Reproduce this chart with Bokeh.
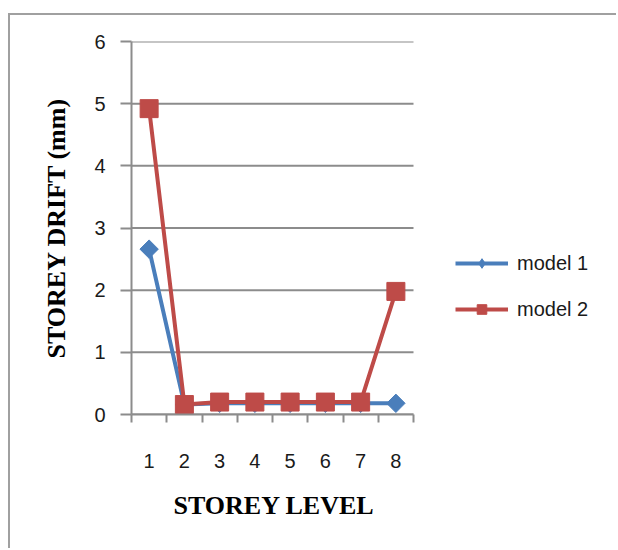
import math
from bokeh.plotting import figure
from bokeh.models import (Range1d, FixedTicker, Legend, LegendItem, Title)
from bokeh.embed import file_html
from bokeh.resources import INLINE

levels = [1, 2, 3, 4, 5, 6, 7, 8]
level_labels = ["1", "2", "3", "4", "5", "6", "7", "8"]
model1 = [2.66, 0.16, 0.18, 0.18, 0.18, 0.18, 0.18, 0.18]
model2 = [4.92, 0.16, 0.2, 0.2, 0.2, 0.2, 0.2, 1.98]
y_ticks = [0, 1, 2, 3, 4, 5, 6]

BLUE = "#4A7EBB"
RED = "#BE4B48"
GRID = "#8C8C8C"

OX, OY = 10, 15  # canvas origin on the page (margin + border)
W, H = 618 - OX, 550 - OY
FRAME_L, FRAME_T, FRAME_B = 131 - OX, 41 - OY, 414 - OY
PLOT_W = 282  # width of the category area in px
frame_w = W - FRAME_L
x0 = 0.5
x1 = x0 + len(levels) * frame_w / PLOT_W

p = figure(width=W, height=H, output_backend="svg", toolbar_location=None,
           x_range=Range1d(x0, x1), y_range=Range1d(0, 6),
           min_border_left=FRAME_L, min_border_right=0,
           min_border_top=FRAME_T, min_border_bottom=H - FRAME_B)
p.styles = {"margin-left": "8px", "margin-top": "13px",
            "border-left": "2px solid #A0A0A0", "border-top": "2px solid #A0A0A0"}
p.outline_line_color = None
p.background_fill_color = "white"
p.border_fill_color = "white"

# horizontal gridlines limited to the category area
p.segment(x0=[x0] * len(y_ticks), x1=[x0 + len(levels)] * len(y_ticks),
          y0=y_ticks, y1=y_ticks, line_color=GRID, line_width=2)

# axes
xa = p.xaxis[0]
xa.bounds = (x0, x0 + len(levels))
xa.ticker = FixedTicker(ticks=levels, minor_ticks=[l - 0.5 for l in levels] + [levels[-1] + 0.5])
xa.major_label_overrides = {l: s for l, s in zip(levels, level_labels)}
xa.major_tick_line_color = None
xa.major_tick_out = 0
xa.major_tick_in = 0
xa.minor_tick_out = 8
xa.minor_tick_in = 0
xa.minor_tick_line_color = GRID
xa.minor_tick_line_width = 2
xa.axis_line_color = GRID
xa.axis_line_width = 2
xa.major_label_text_font = "Liberation Sans"
xa.major_label_text_font_size = "20px"
xa.major_label_text_color = "#1A1A1A"
xa.major_label_standoff = 31

# x-axis title centred under the category area
p.add_layout(Title(text="STOREY LEVEL", align="left", offset=42, standoff=36,
                   text_font="Liberation Serif", text_font_style="bold",
                   text_font_size="26px", text_color="#000000"), "below")

ya = p.yaxis[0]
ya.ticker = FixedTicker(ticks=y_ticks, minor_ticks=[])
ya.major_tick_out = 11
ya.major_tick_in = 0
ya.major_tick_line_color = GRID
ya.major_tick_line_width = 2
ya.axis_line_color = GRID
ya.axis_line_width = 2
ya.major_label_text_font = "Liberation Sans"
ya.major_label_text_font_size = "20px"
ya.major_label_text_color = "#1A1A1A"
ya.major_label_standoff = 15
ya.axis_label = "STOREY DRIFT (mm)"
ya.axis_label_text_font = "Liberation Serif"
ya.axis_label_text_font_style = "bold"
ya.axis_label_text_font_size = "26px"
ya.axis_label_text_color = "#000000"
ya.axis_label_standoff = 20

p.xgrid.grid_line_color = None
p.ygrid.grid_line_color = None

# series
l1 = p.line(levels, model1, line_color=BLUE, line_width=4)
# diamond (used by the legend key) hidden underneath the rotated-square markers
m1_key = p.scatter(levels, model1, marker="diamond", size=13,
                   fill_color=BLUE, line_color=BLUE)
m1 = p.scatter(levels, model1, marker="square", angle=math.pi / 4, size=13,
               fill_color=BLUE, line_color=BLUE)
l2 = p.line(levels, model2, line_color=RED, line_width=4)
m2 = p.scatter(levels, model2, marker="square", size=18,
               fill_color=RED, line_color=RED)

legend = Legend(items=[LegendItem(label="model 1", renderers=[l1, m1_key]),
                       LegendItem(label="model 2", renderers=[l2, m2])],
                location=(324, 93), padding=0, margin=0,
                border_line_color=None, background_fill_alpha=0,
                glyph_width=53, glyph_height=24, label_height=24,
                label_standoff=9, spacing=22,
                label_text_font="Liberation Sans", label_text_font_size="20px",
                label_text_color="#1A1A1A")
p.add_layout(legend, "center")

open("out.html", "w").write(file_html(p, INLINE))
